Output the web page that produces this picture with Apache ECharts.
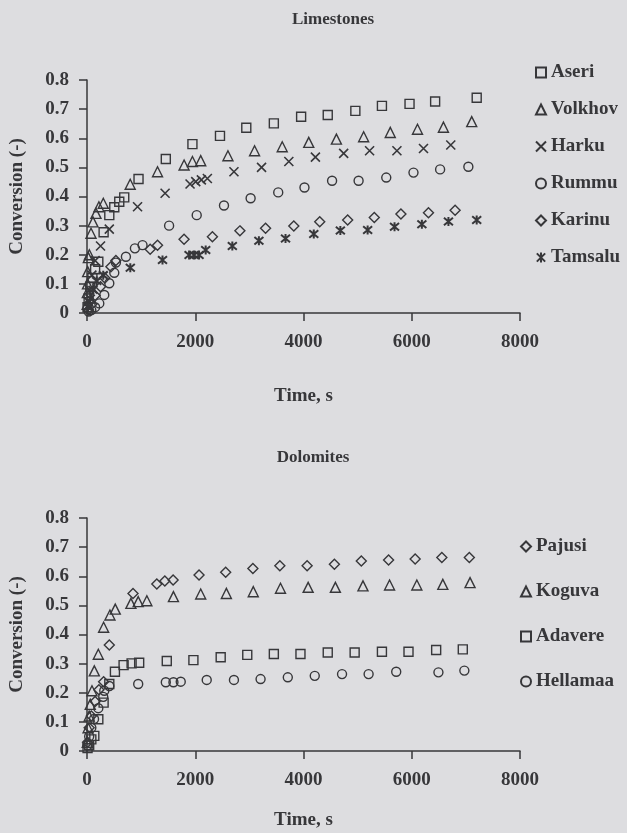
<!DOCTYPE html>
<html>
<head>
<meta charset="utf-8">
<script src="https://cdn.jsdelivr.net/npm/echarts@6/dist/echarts.min.js"></script>
<style>
html,body{margin:0;padding:0;background:#dddde0;}
#chart{width:627px;height:833px;}
</style>
</head>
<body>
<div id="chart"></div>
<script>
// ---- Data: [time (s), conversion (-)] ----
const aseri = [[10,0.02],[30,0.05],[60,0.09],[100,0.12],[150,0.15],[209,0.176],[307,0.277],[412,0.336],[504,0.363],[596,0.382],[688,0.397],[952,0.460],[1456,0.529],[1948,0.580],[2457,0.608],[2943,0.636],[3452,0.651],[3956,0.674],[4448,0.680],[4958,0.694],[5449,0.711],[5959,0.718],[6432,0.726],[7200,0.739]];
const volkhov = [[3,0.03],[6,0.07],[9,0.10],[12,0.142],[25,0.19],[43,0.20],[74,0.274],[110,0.313],[166,0.342],[220,0.365],[301,0.377],[798,0.442],[1303,0.485],[1794,0.508],[1948,0.520],[2101,0.523],[2604,0.540],[3096,0.557],[3607,0.571],[4097,0.586],[4608,0.597],[5111,0.605],[5603,0.620],[6106,0.631],[6585,0.638],[7108,0.657]];
const harku = [[20,0.04],[50,0.08],[90,0.13],[150,0.18],[250,0.23],[412,0.288],[934,0.365],[1443,0.411],[1904,0.443],[2009,0.451],[2113,0.457],[2224,0.462],[2715,0.485],[3225,0.500],[3729,0.520],[4220,0.535],[4742,0.548],[5221,0.557],[5726,0.557],[6217,0.565],[6721,0.577]];
const rummu = [[30,0.005],[80,0.01],[150,0.02],[227,0.033],[319,0.062],[412,0.102],[504,0.138],[534,0.173],[719,0.193],[885,0.222],[1026,0.233],[1517,0.300],[2027,0.336],[2531,0.369],[3023,0.394],[3533,0.414],[4018,0.431],[4528,0.454],[5018,0.454],[5529,0.465],[6032,0.482],[6524,0.493],[7046,0.502]];
const karinu = [[30,0.01],[90,0.03],[150,0.06],[250,0.09],[330,0.12],[442,0.159],[534,0.180],[1167,0.219],[1303,0.233],[1793,0.253],[2317,0.262],[2825,0.282],[3299,0.291],[3821,0.299],[4300,0.313],[4816,0.319],[5308,0.328],[5800,0.340],[6309,0.344],[6801,0.353]];
const tamsalu = [[20,0.02],[60,0.05],[110,0.08],[180,0.11],[300,0.13],[800,0.155],[1395,0.182],[1886,0.199],[1978,0.199],[2070,0.199],[2193,0.216],[2685,0.230],[3176,0.248],[3668,0.256],[4190,0.271],[4681,0.283],[5185,0.285],[5682,0.296],[6187,0.305],[6678,0.314],[7200,0.319]];

const pajusi = [[10,0.03],[40,0.08],[80,0.12],[150,0.17],[220,0.21],[307,0.238],[412,0.364],[850,0.541],[1290,0.573],[1438,0.584],[1591,0.587],[2070,0.604],[2562,0.614],[3065,0.627],[3563,0.636],[4067,0.636],[4571,0.641],[5068,0.652],[5572,0.656],[6063,0.659],[6556,0.664],[7064,0.664]];
const koguva = [[5,0.03],[20,0.08],[40,0.12],[60,0.16],[92,0.207],[135,0.275],[209,0.332],[307,0.425],[424,0.467],[522,0.487],[811,0.507],[946,0.513],[1106,0.516],[1597,0.530],[2101,0.539],[2575,0.541],[3072,0.547],[3575,0.559],[4086,0.562],[4589,0.562],[5099,0.567],[5590,0.570],[6094,0.570],[6574,0.572],[7077,0.578]];
const adavere = [[10,0.01],[40,0.02],[80,0.04],[135,0.052],[209,0.109],[307,0.166],[412,0.230],[516,0.272],[676,0.295],[824,0.301],[964,0.303],[1474,0.309],[1966,0.312],[2470,0.322],[2961,0.330],[3452,0.333],[3944,0.333],[4448,0.338],[4945,0.338],[5449,0.341],[5940,0.341],[6451,0.347],[6943,0.349]];
const hellamaa = [[10,0.02],[40,0.05],[80,0.08],[130,0.11],[209,0.147],[300,0.186],[319,0.207],[412,0.223],[946,0.230],[1456,0.236],[1597,0.236],[1732,0.238],[2212,0.244],[2715,0.244],[3207,0.247],[3710,0.253],[4208,0.258],[4712,0.264],[5203,0.264],[5713,0.272],[6493,0.270],[6972,0.276]];

const limestoneNames = ['Aseri','Volkhov','Harku','Rummu','Karinu','Tamsalu'];
const dolomiteNames = ['Pajusi','Koguva','Adavere','Hellamaa'];
const xTicks = [0, 2000, 4000, 6000, 8000];
const yTicks = [0, 0.1, 0.2, 0.3, 0.4, 0.5, 0.6, 0.7, 0.8];

// ---- Styling ----
const INK = '#37373a';
const FONT = 'Liberation Serif';
const SYM = {
  square: 'rect',
  triangle: 'triangle',
  circle: 'circle',
  diamond: 'diamond',
  cross: 'path://M0,0L10,10M10,0L0,10',
  star: 'path://M0,0L10,10M10,0L0,10M5,-1L5,11'
};
function sc(name, data, symbol, size, gi, bw) {
  return {
    name: name, type: 'scatter', data: data,
    xAxisIndex: gi, yAxisIndex: gi,
    symbol: symbol, symbolSize: size,
    itemStyle: { color: 'rgba(0,0,0,0)', borderColor: INK, borderWidth: bw || 1.4, opacity: 1 },
    emphasis: { disabled: true },
    animation: false
  };
}
function xAx(gi) {
  return {
    type: 'value', gridIndex: gi, min: xTicks[0], max: xTicks[xTicks.length-1], interval: 2000,
    name: 'Time, s', nameLocation: 'middle', nameGap: gi === 0 ? 74 : 60,
    nameTextStyle: { fontFamily: FONT, fontWeight: 'bold', fontSize: 19, color: INK },
    axisLine: { lineStyle: { color: INK, width: 1.5 } },
    axisTick: { inside: false, length: 8, lineStyle: { color: INK, width: 1.5 } },
    axisLabel: { margin: 20, fontFamily: FONT, fontWeight: 'bold', fontSize: 19, color: INK,
      formatter: v => String(v) },
    splitLine: { show: false }
  };
}
function yAx(gi) {
  return {
    type: 'value', gridIndex: gi, min: yTicks[0], max: yTicks[yTicks.length-1], interval: 0.1,
    name: 'Conversion (-)', nameLocation: 'middle', nameRotate: 90, nameGap: 60,
    nameTextStyle: { fontFamily: FONT, fontWeight: 'bold', fontSize: 19, color: INK },
    axisLine: { show: true, lineStyle: { color: INK, width: 1.5 } },
    axisTick: { show: true, inside: false, length: 8, lineStyle: { color: INK, width: 1.5 } },
    axisLabel: { margin: 18, fontFamily: FONT, fontWeight: 'bold', fontSize: 19, color: INK,
      formatter: v => v === 0 ? '0' : v.toFixed(1) },
    splitLine: { show: false }
  };
}
const legText = { fontFamily: FONT, fontWeight: 'bold', fontSize: 19, color: INK };

const chart = echarts.init(document.getElementById('chart'), null, { renderer: 'canvas' });
chart.setOption({
  backgroundColor: '#dddde0',
  animation: false,
  grid: [
    { left: 86, top: 80, width: 434, height: 233 },
    { left: 86, top: 518, width: 434, height: 233 }
  ],
  xAxis: [xAx(0), xAx(1)],
  yAxis: [yAx(0), yAx(1)],
  legend: [
    { data: limestoneNames, orient: 'vertical', left: 530, top: 58, itemWidth: 10, itemHeight: 10,
      itemGap: 18, textStyle: legText, selectedMode: false },
    { data: dolomiteNames, orient: 'vertical', left: 515, top: 532, itemWidth: 10, itemHeight: 10,
      itemGap: 26, textStyle: legText, selectedMode: false }
  ],
  graphic: [
    { type: 'text', x: 333, y: 20, style: { text: 'Limestones', fill: INK, font: 'bold 17px "Liberation Serif"', textAlign: 'center', textVerticalAlign: 'middle' } },
    { type: 'text', x: 313, y: 458, style: { text: 'Dolomites', fill: INK, font: 'bold 17px "Liberation Serif"', textAlign: 'center', textVerticalAlign: 'middle' } }
  ],
  series: [
    sc('Aseri', aseri, SYM.square, 9, 0),
    sc('Volkhov', volkhov, SYM.triangle, 10, 0),
    sc('Harku', harku, SYM.cross, 9, 0, 1.6),
    sc('Rummu', rummu, SYM.circle, 9, 0),
    sc('Karinu', karinu, SYM.diamond, 10, 0),
    sc('Tamsalu', tamsalu, SYM.star, 9, 0, 2),
    sc('Pajusi', pajusi, SYM.diamond, 10, 1),
    sc('Koguva', koguva, SYM.triangle, 10, 1),
    sc('Adavere', adavere, SYM.square, 9, 1),
    sc('Hellamaa', hellamaa, SYM.circle, 9, 1)
  ]
});
</script>
</body>
</html>
